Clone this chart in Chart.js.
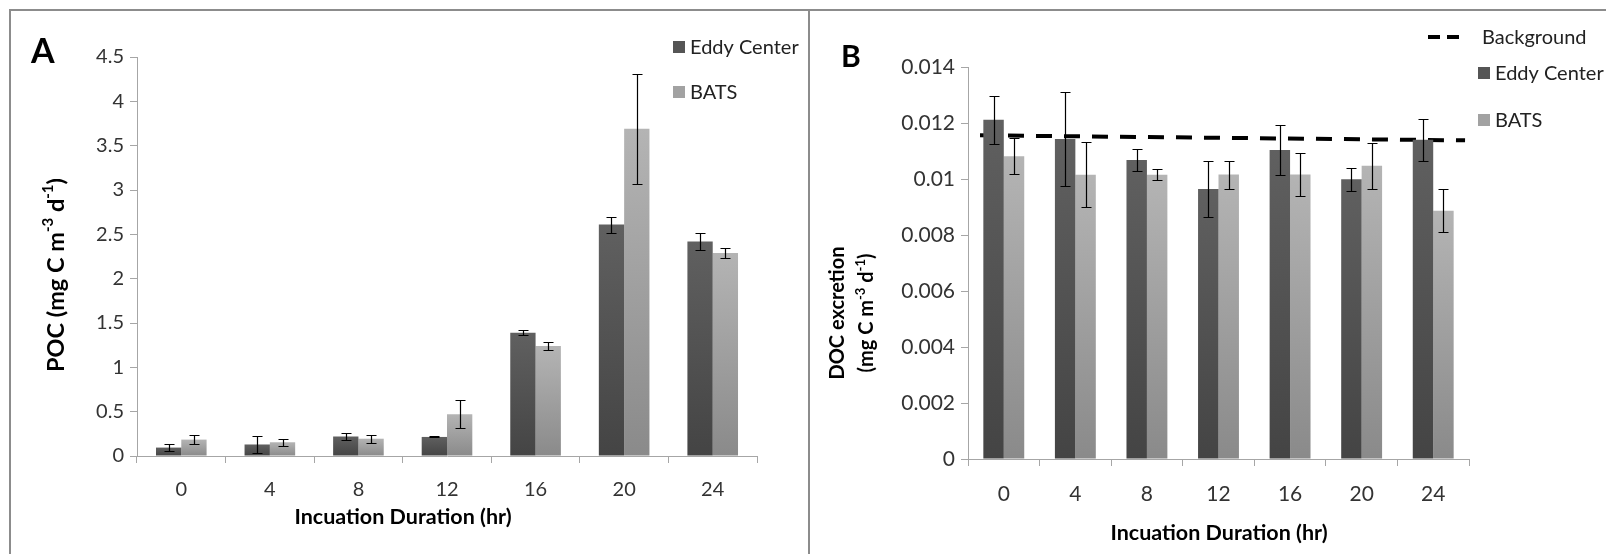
<!DOCTYPE html>
<html>
<head>
<meta charset="utf-8">
<script src="https://cdn.jsdelivr.net/npm/chart.js@4.4.1/dist/chart.umd.min.js"></script>
<style>
  body { margin: 0; background: #fff; }
  #wrap { position: relative; width: 1606px; height: 554px; overflow: hidden; font-family: Lato, sans-serif; }
  .frame { position: absolute; left: 9px; top: 9px; width: 1700px; height: 700px; border-left: 2px solid #8c8c8c; border-top: 2px solid #8c8c8c; }
  .divider { position: absolute; left: 808px; top: 9px; width: 2px; height: 700px; background: #8c8c8c; }
  .panel { position: absolute; top: 12px; height: 542px; }
  .letter { position: absolute; font-weight: bold; color: #000; line-height: 1; }
</style>
</head>
<body>
<div id="wrap">
  <div class="frame"></div>
  <div class="divider"></div>
  <div class="panel" style="left:12px;width:794px"><canvas id="chartA"></canvas></div>
  <div class="panel" style="left:811px;width:795px"><canvas id="chartB"></canvas></div>
  <div class="letter" style="left:31px;top:33px;font-size:34px">A</div>
  <div class="letter" style="left:841px;top:40px;font-size:30px">B</div>
</div>
<script>
const hours = ["0", "4", "8", "12", "16", "20", "24"];

// panel A: POC
const pocEddy = [0.095, 0.13, 0.22, 0.215, 1.39, 2.61, 2.42];
const pocEddyErr = [0.038, 0.097, 0.04, 0.005, 0.027, 0.09, 0.1];
const pocBats = [0.185, 0.155, 0.195, 0.47, 1.24, 3.69, 2.29];
const pocBatsErr = [0.047, 0.042, 0.044, 0.157, 0.05, 0.62, 0.06];

// panel B: DOC excretion
const docEddy = [0.01212, 0.01143, 0.01068, 0.00964, 0.01104, 0.00999, 0.0114];
const docEddyErr = [0.00086, 0.00168, 0.0004, 0.001, 0.0009, 0.00042, 0.00075];
const docBats = [0.01081, 0.01015, 0.01015, 0.01016, 0.01016, 0.01047, 0.00887];
const docBatsErr = [0.00064, 0.00116, 0.00019, 0.0005, 0.00077, 0.00083, 0.00076];
// background line end points (hours, value)
const bgHours = [-1.33, 25.78];
const bgValues = [0.01156, 0.01138];
const HOUR_STEP = 4; // one category every 4 h

Chart.defaults.font.family = "Lato, sans-serif";
Chart.defaults.color = "#333";

const DARK = ["#606060", "#444444"];
const LIGHT = ["#b4b4b4", "#8a8a8a"];
const AXIS = "#a6a6a6";

function barFill(cols) {
    return (c) => {
        const chart = c.chart;
        if (!chart.chartArea || c.type !== "data") return cols[1];
        const ys = chart.scales.y;
        const top = ys.getPixelForValue(c.parsed.y);
        const bot = ys.getPixelForValue(0);
        if (!isFinite(top) || bot - top < 1) return cols[1];
        const g = chart.ctx.createLinearGradient(0, top, 0, bot);
        g.addColorStop(0, cols[0]);
        g.addColorStop(1, cols[1]);
        return g;
    };
}

// error bars drawn from each dataset's errors array
const errorBars = {
    id: "errorBars",
    afterDatasetsDraw(chart, args, opts) {
        const ctx = chart.ctx;
        const ys = chart.scales.y;
        chart.data.datasets.forEach((ds, i) => {
            if (!ds.errors) return;
            const meta = chart.getDatasetMeta(i);
            ctx.save();
            ctx.strokeStyle = "#000";
            ctx.lineWidth = 1.2;
            meta.data.forEach((bar, j) => {
                const v = ds.data[j], e = ds.errors[j];
                const x = Math.round(bar.x) + 0.5;
                const t = Math.round(ys.getPixelForValue(v + e)) + 0.5;
                const b = Math.round(ys.getPixelForValue(v - e)) + 0.5;
                ctx.beginPath();
                ctx.moveTo(x, t); ctx.lineTo(x, b);
                ctx.moveTo(x - opts.cap, t); ctx.lineTo(x + opts.cap, t);
                ctx.moveTo(x - opts.cap, b); ctx.lineTo(x + opts.cap, b);
                ctx.stroke();
            });
            ctx.restore();
        });
    }
};

// axis titles with superscripts; placed where the original has them (not centred)
const axisTitles = {
    id: "axisTitles",
    afterDraw(chart, args, opts) {
        const ctx = chart.ctx;
        ctx.save();
        ctx.fillStyle = "#000";
        ctx.textAlign = "left";
        ctx.textBaseline = "middle";
        opts.items.forEach((it) => {
            const big = "bold " + it.size + "px Lato";
            const small = "bold " + Math.round(it.size * 0.65) + "px Lato";
            it.lines.forEach((segs, i) => {
                let w = 0;
                segs.forEach((s) => {
                    ctx.font = typeof s === "string" ? big : small;
                    w += ctx.measureText(typeof s === "string" ? s : s.sup).width;
                });
                ctx.save();
                if (it.rotate) {
                    ctx.translate(it.x + i * (it.gap || 0), it.y);
                    ctx.rotate(-Math.PI / 2);
                } else {
                    ctx.translate(it.x, it.y + i * (it.gap || 0));
                }
                let pos = -w / 2;
                segs.forEach((s) => {
                    const txt = typeof s === "string" ? s : s.sup;
                    ctx.font = typeof s === "string" ? big : small;
                    ctx.fillText(txt, pos, typeof s === "string" ? 0 : -it.size * 0.33);
                    pos += ctx.measureText(txt).width;
                });
                ctx.restore();
            });
        });
        ctx.restore();
    }
};

const boxLegend = {
    id: "boxLegend",
    afterDraw(chart, args, opts) {
        const ctx = chart.ctx;
        ctx.save();
        ctx.font = opts.font;
        ctx.textBaseline = "middle";
        opts.items.forEach((it) => {
            const ds = chart.data.datasets[it.index];
            if (ds.type === "line") {
                ctx.strokeStyle = "#000";
                ctx.lineWidth = 4;
                ctx.setLineDash([12, 7]);
                ctx.beginPath();
                ctx.moveTo(it.x, it.y);
                ctx.lineTo(it.x + 37, it.y);
                ctx.stroke();
                ctx.setLineDash([]);
            } else {
                ctx.fillStyle = ds.legendColor;
                ctx.fillRect(it.x, it.y - 6, 12, 12);
            }
            ctx.fillStyle = "#222";
            ctx.fillText(ds.label, it.textX, it.y + 1);
        });
        ctx.restore();
    }
};

function yTicks(dec) {
    return (v) => String(+v.toFixed(dec));
}

const xTitle = "Incuation Duration (hr)";
const unitSegs = ["(mg C m", { sup: "-3" }, " d", { sup: "-1" }, ")"];

new Chart(document.getElementById("chartA"), {
    type: "bar",
    data: {
        labels: hours,
        datasets: [
            { label: "Eddy Center", data: pocEddy, errors: pocEddyErr, backgroundColor: barFill(DARK), legendColor: "#555" },
            { label: "BATS", data: pocBats, errors: pocBatsErr, backgroundColor: barFill(LIGHT), legendColor: "#a2a2a2" },
        ],
    },
    options: {
        responsive: true,
        maintainAspectRatio: false,
        animation: false,
        categoryPercentage: 2 / 3.5,
        barPercentage: 1,
        layout: { padding: { left: 0, top: 45, right: 49, bottom: 0 } },
        scales: {
            x: {
                afterFit: (s) => { s.height = 98; },
                grid: { display: true, drawOnChartArea: false, color: AXIS, tickLength: 7, offset: true },
                border: { color: AXIS },
                ticks: { padding: 15, font: { size: 20 }, color: "#333" },
            },
            y: {
                min: 0,
                max: 4.5,
                afterFit: (s) => { s.width = 125; },
                grid: { display: true, drawOnChartArea: false, color: AXIS, tickLength: 7 },
                border: { color: AXIS },
                ticks: { stepSize: 0.5, padding: 6, font: { size: 20 }, color: "#333", callback: yTicks(1) },
            },
        },
        plugins: {
            legend: { display: false },
            tooltip: { enabled: false },
            errorBars: { cap: 5 },
            axisTitles: {
                items: [
                    { lines: [["POC "].concat(unitSegs)], x: 44, y: 263, size: 23.5, rotate: true },
                    { lines: [[xTitle]], x: 391, y: 505.5, size: 21.5 },
                ],
            },
            boxLegend: {
                font: "20px Lato",
                items: [
                    { index: 0, x: 661, textX: 678, y: 35 },
                    { index: 1, x: 661, textX: 678, y: 80 },
                ],
            },
        },
    },
    plugins: [errorBars, axisTitles, boxLegend],
});

new Chart(document.getElementById("chartB"), {
    type: "bar",
    data: {
        labels: hours,
        datasets: [
            { label: "Eddy Center", data: docEddy, errors: docEddyErr, backgroundColor: barFill(DARK), legendColor: "#555" },
            { label: "BATS", data: docBats, errors: docBatsErr, backgroundColor: barFill(LIGHT), legendColor: "#a2a2a2" },
            {
                type: "line", label: "Background", parsing: false,
                data: bgHours.map((h, i) => ({ x: h / HOUR_STEP, y: bgValues[i] })),
                borderColor: "#000", borderWidth: 4, borderDash: [16, 12], pointRadius: 0, fill: false,
            },
        ],
    },
    options: {
        responsive: true,
        maintainAspectRatio: false,
        animation: false,
        categoryPercentage: 2 / 3.5,
        barPercentage: 1,
        layout: { padding: { left: 0, top: 55, right: 137, bottom: 0 } },
        scales: {
            x: {
                afterFit: (s) => { s.height = 95; },
                grid: { display: true, drawOnChartArea: false, color: AXIS, tickLength: 7, offset: true },
                border: { color: AXIS },
                ticks: { padding: 16, font: { size: 21 }, color: "#333" },
            },
            y: {
                min: 0,
                max: 0.014,
                afterFit: (s) => { s.width = 157; },
                grid: { display: true, drawOnChartArea: false, color: AXIS, tickLength: 7 },
                border: { color: AXIS },
                ticks: { stepSize: 0.002, padding: 6, font: { size: 21 }, color: "#333", callback: yTicks(3) },
            },
        },
        plugins: {
            legend: { display: false },
            tooltip: { enabled: false },
            errorBars: { cap: 5 },
            axisTitles: {
                items: [
                    { lines: [["DOC excretion"], unitSegs], x: 27, y: 301, gap: 29, size: 20, rotate: true },
                    { lines: [[xTitle]], x: 408, y: 521, size: 21.5 },
                ],
            },
            boxLegend: {
                font: "20px Lato",
                items: [
                    { index: 2, x: 617, textX: 671, y: 25 },
                    { index: 0, x: 667, textX: 684, y: 61 },
                    { index: 1, x: 667, textX: 684, y: 108 },
                ],
            },
        },
    },
    plugins: [errorBars, axisTitles, boxLegend],
});
</script>
</body>
</html>
